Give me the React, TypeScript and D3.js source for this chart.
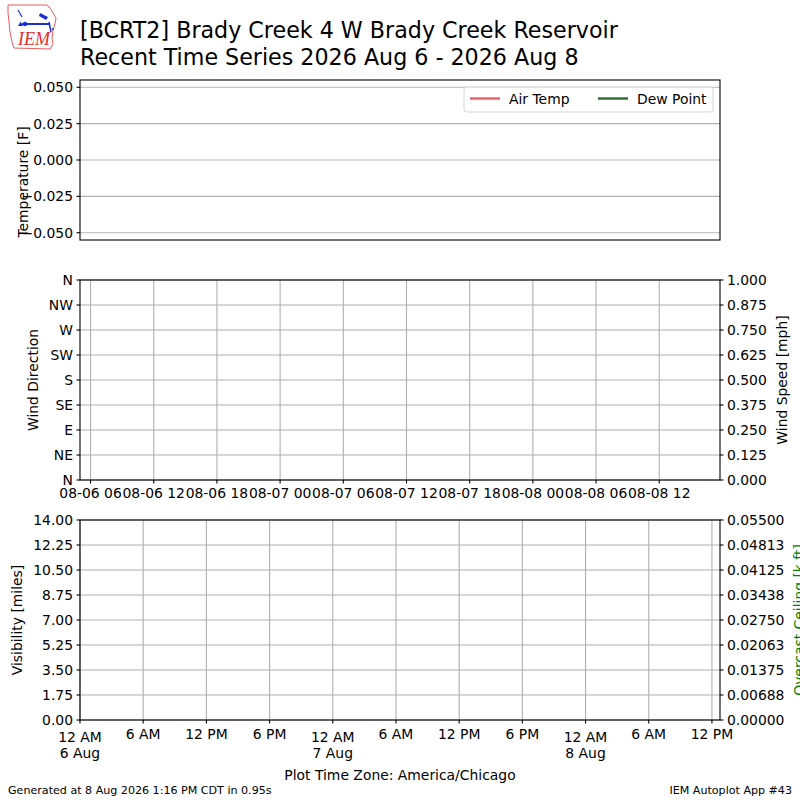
import * as d3 from 'd3';

// time window shown on all panels (UTC instants, plot zone is CDT = UTC-5)
const START = new Date('2026-08-06T05:00:00Z');
const END = new Date('2026-08-08T17:46:00Z');
const CDT_OFFSET_H = -5;

// no observations came back for this station
const airTemp: { t: Date; v: number }[] = [];
const dewPoint: { t: Date; v: number }[] = [];

const tempTicks = [-0.05, -0.025, 0, 0.025, 0.05];
const dirTicks = [0, 45, 90, 135, 180, 225, 270, 315, 360];
const dirLabels = ['N', 'NE', 'E', 'SE', 'S', 'SW', 'W', 'NW', 'N'];
const speedTicks = [0, 0.125, 0.25, 0.375, 0.5, 0.625, 0.75, 0.875, 1];
const visTicks = [0, 1.75, 3.5, 5.25, 7, 8.75, 10.5, 12.25, 14];
const ceilTicks = [0, 0.006875, 0.01375, 0.020625, 0.0275, 0.034375, 0.04125, 0.048125, 0.055];
const ceilLabels = ['0.00000', '0.00688', '0.01375', '0.02063', '0.02750', '0.03438', '0.04125', '0.04813', '0.05500'];
const localTickHours = [0, 6, 12, 18, 24, 30, 36, 42, 48, 54, 60];

const legendItems = [
  { name: 'Air Temp', color: '#e0606b' },
  { name: 'Dew Point', color: '#2d6a2d' },
];

const FONT = '"DejaVu Sans", sans-serif';
const FS = 13.9;
const GRID = '#b0b0b0';

const L = 80;
const R = 720;
const P1 = { top: 80, bottom: 240 };
const P2 = { top: 280, bottom: 480 };
const P3 = { top: 520, bottom: 720 };

export default function App() {
  const x = d3.scaleUtc().domain([START, END]).range([L, R]);

  const yTemp = d3.scaleLinear().domain([-0.055, 0.055]).range([P1.bottom, P1.top]);
  const yDir = d3.scaleLinear().domain([0, 360]).range([P2.bottom, P2.top]);
  const ySpeed = d3.scaleLinear().domain([0, 1]).range([P2.bottom, P2.top]);
  const yVis = d3.scaleLinear().domain([0, 14]).range([P3.bottom, P3.top]);
  const yCeil = d3.scaleLinear().domain([0, 0.055]).range([P3.bottom, P3.top]);

  const line = d3.line<{ t: Date; v: number }>().x(d => x(d.t)).y(d => yTemp(d.v));

  const utcTicks = d3.utcHour.every(6)!.range(START, END);
  const utcFmt = d3.utcFormat('%m-%d %H');

  const localTicks = localTickHours.map(h => d3.utcHour.offset(START, h));
  const toLocal = (d: Date) => d3.utcHour.offset(d, CDT_OFFSET_H);
  const hourFmt = d3.utcFormat('%-I %p');
  const dayFmt = d3.utcFormat('%-d %b');

  const fmt3 = d3.format('.3f');
  const fmt2 = d3.format('.2f');

  const leftTicks = (scale: d3.ScaleLinear<number, number>, vals: number[], labels: string[]) =>
    vals.map((v, i) => (
      <g key={'l' + i} transform={`translate(${L},${scale(v)})`}>
        <line x1={-3.5} x2={0} stroke="#000" strokeWidth={1.1} />
        <text x={-7} dy={5} textAnchor="end" fontSize={FS}>{labels[i]}</text>
      </g>
    ));

  const rightTicks = (scale: d3.ScaleLinear<number, number>, vals: number[], labels: string[]) =>
    vals.map((v, i) => (
      <g key={'r' + i} transform={`translate(${R},${scale(v)})`}>
        <line x1={0} x2={3.5} stroke="#000" strokeWidth={1.1} />
        <text x={7} dy={5} textAnchor="start" fontSize={FS}>{labels[i]}</text>
      </g>
    ));

  const hGrid = (scale: d3.ScaleLinear<number, number>, vals: number[]) =>
    vals.map((v, i) => (
      <line key={'h' + i} x1={L} x2={R} y1={scale(v)} y2={scale(v)} stroke={GRID} strokeWidth={1.1} />
    ));

  const vGrid = (ticks: Date[], top: number, bottom: number) =>
    ticks.map((t, i) => (
      <line key={'v' + i} x1={x(t)} x2={x(t)} y1={top} y2={bottom} stroke={GRID} strokeWidth={1.1} />
    ));

  const frame = (top: number, bottom: number) => (
    <rect x={L} y={top} width={R - L} height={bottom - top} fill="none" stroke="#000" strokeWidth={1.1} />
  );

  return (
    <div style={{ position: 'absolute', left: 0, top: 0 }}>
      <svg width={800} height={800} style={{ display: 'block', background: '#fff' }} fontFamily={FONT}>
        <rect width={800} height={800} fill="#fff" />

        {/* IEM logo */}
        <g>
          <path
            d="M8,5 L47,5 Q51,8 53,13 L56,18 L55,24 L53,30 L52,38 L53,44 L50,49 L14,48 L12,42 L10,32 L9,22 L8,13 Z"
            fill="none" stroke="#e84a4a" strokeWidth={0.9}
          />
          <line x1={22} y1={24} x2={50} y2={24} stroke="#1b2fd6" strokeWidth={2} />
          <circle cx={25} cy={24} r={2.2} fill="#1b2fd6" />
          <path d="M18,26 L20.5,21.5 L23,26 Z" fill="#1b2fd6" />
          <path d="M40,13 L48,17 L46,20 L39,16 Z" fill="#1b2fd6" />
          <path d="M18,10 L22,17" stroke="#1b2fd6" strokeWidth={1.2} />
          <path d="M49,22 L51,32" stroke="#1b2fd6" strokeWidth={1.5} />
          <circle cx={53} cy={29} r={1} fill="#1b2fd6" />
          <text x={18} y={45} fontFamily='"Liberation Serif", serif' fontStyle="italic" fontSize={18} fill="#e03030">IEM</text>
        </g>

        {/* title */}
        <text x={80} y={38} fontSize={22.2}>[BCRT2] Brady Creek 4 W Brady Creek Reservoir</text>
        <text x={80} y={65} fontSize={22.2}>Recent Time Series 2026 Aug 6 - 2026 Aug 8</text>

        {/* panel 1: temperature */}
        {hGrid(yTemp, tempTicks)}
        <path d={line(airTemp) ?? ''} fill="none" stroke={legendItems[0].color} strokeWidth={2} />
        <path d={line(dewPoint) ?? ''} fill="none" stroke={legendItems[1].color} strokeWidth={2} />
        {frame(P1.top, P1.bottom)}
        {leftTicks(yTemp, tempTicks, tempTicks.map(fmt3))}
        <text transform="translate(28,182) rotate(-90)" textAnchor="middle" fontSize={FS}>Temperature [F]</text>
        <g>
          <rect x={464} y={87} width={249} height={25} rx={3} fill="#fff" fillOpacity={0.8} stroke="#d6d6d6" strokeWidth={1} />
          {legendItems.map((d, i) => (
            <g key={d.name} transform={`translate(${470 + i * 128},98.5)`}>
              <line x1={0} x2={30} stroke={d.color} strokeWidth={2.4} />
              <text x={39} dy={5} fontSize={FS}>{d.name}</text>
            </g>
          ))}
        </g>

        {/* panel 2: wind */}
        {hGrid(yDir, dirTicks)}
        {vGrid(utcTicks, P2.top, P2.bottom)}
        {frame(P2.top, P2.bottom)}
        {leftTicks(yDir, dirTicks, dirLabels)}
        {rightTicks(ySpeed, speedTicks, speedTicks.map(fmt3))}
        {utcTicks.map((t, i) => (
          <g key={'ut' + i} transform={`translate(${x(t)},${P2.bottom})`}>
            <line y1={0} y2={3.5} stroke="#000" strokeWidth={1.1} />
            <text y={18} textAnchor="middle" fontSize={FS}>{utcFmt(t)}</text>
          </g>
        ))}
        <text transform={`translate(38,${(P2.top + P2.bottom) / 2}) rotate(-90)`} textAnchor="middle" fontSize={FS}>Wind Direction</text>
        <text transform={`translate(787,${(P2.top + P2.bottom) / 2}) rotate(-90)`} textAnchor="middle" fontSize={FS}>Wind Speed [mph]</text>

        {/* panel 3: visibility and ceiling */}
        {hGrid(yVis, visTicks)}
        {vGrid(localTicks, P3.top, P3.bottom)}
        {frame(P3.top, P3.bottom)}
        {leftTicks(yVis, visTicks, visTicks.map(fmt2))}
        {rightTicks(yCeil, ceilTicks, ceilLabels)}
        {localTicks.map((t, i) => {
          const lt = toLocal(t);
          const midnight = lt.getUTCHours() === 0;
          return (
            <g key={'lt' + i} transform={`translate(${x(t)},${P3.bottom})`}>
              <line y1={0} y2={3.5} stroke="#000" strokeWidth={1.1} />
              <text y={midnight ? 22 : 19} textAnchor="middle" fontSize={FS}>{hourFmt(lt)}</text>
              {midnight && <text y={38} textAnchor="middle" fontSize={FS}>{dayFmt(lt)}</text>}
            </g>
          );
        })}
        <text transform={`translate(22,${(P3.top + P3.bottom) / 2}) rotate(-90)`} textAnchor="middle" fontSize={FS}>Visibility [miles]</text>
        <text transform={`translate(804,${(P3.top + P3.bottom) / 2}) rotate(-90)`} textAnchor="middle" fontSize={FS} fill="green">Overcast Ceiling [k ft]</text>
        <text x={400} y={780} textAnchor="middle" fontSize={FS}>Plot Time Zone: America/Chicago</text>

        {/* footer */}
        <text x={8} y={794} fontSize={11.1}>Generated at 8 Aug 2026 1:16 PM CDT in 0.95s</text>
        <text x={792} y={794} textAnchor="end" fontSize={11.1}>IEM Autoplot App #43</text>
      </svg>
    </div>
  );
}
